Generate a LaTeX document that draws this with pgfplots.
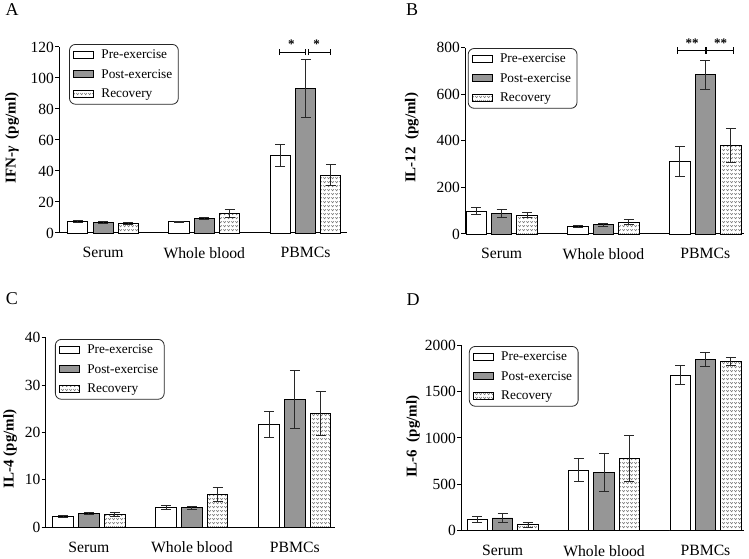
\documentclass[border=0pt]{standalone}
\usepackage{fontspec}
\setmainfont{Liberation Serif}
\usepackage{pgfplots}
\pgfplotsset{compat=1.18}
\usetikzlibrary{patterns}
\definecolor{postgray}{RGB}{150,150,150}
\definecolor{errc}{RGB}{40,40,40}
\definecolor{patc}{RGB}{110,110,110}

\pgfdeclarepatternformonly{vees}{\pgfpointorigin}{\pgfpoint{3.6pt}{3.8pt}}{\pgfpoint{3.6pt}{3.8pt}}{
  \pgfsetlinewidth{0.55pt}
  \pgfpathmoveto{\pgfpoint{0.4pt}{2.9pt}}
  \pgfpathlineto{\pgfpoint{1.8pt}{1.3pt}}
  \pgfpathlineto{\pgfpoint{3.2pt}{2.9pt}}
  \pgfusepath{stroke}
}

\pgfplotsset{
  panel/.style={
    scale only axis, ybar, clip=false,
    axis x line*=bottom, axis y line*=left,
    axis line style={line width=1pt, black},
    ymin=0,
    xtick={0,1,2}, xticklabels={Serum,Whole blood,PBMCs},
    x tick style={draw=none},
    y tick style={line width=1pt, black},
    tick align=outside, major tick length=4pt,
    yticklabel style={font=\fontsize{15.5}{17}\selectfont, inner xsep=1pt},
    xticklabel style={font=\fontsize{15.7}{17}\selectfont, yshift=-7pt},
    ylabel style={font=\bfseries\fontsize{15}{17}\selectfont, anchor=center},
    bar width=0.2,
    /pgf/number format/assume math mode=true,
    /pgf/number format/1000 sep={},
    legend cell align=left,
    legend image code/.code={\draw[##1, sharp corners] (0pt,-3.5pt) rectangle (20pt,3.5pt);},
    legend style={anchor=north west, draw=black!85, line width=0.8pt, rounded corners=6pt,
      font=\fontsize{13.3}{15}\selectfont, inner xsep=4pt, inner ysep=3pt, row sep=5.5pt,
      /tikz/every odd column/.append style={column sep=5pt}},
    error bars/y dir=both, error bars/y explicit,
    error bars/error bar style={line width=0.9pt, errc},
    error bars/error mark options={rotate=90, mark size=5pt, line width=0.9pt, errc},
  },
  pre/.style={fill=white, draw=black, line width=0.9pt, bar shift=-0.25},
  post/.style={fill=postgray, draw=black, line width=0.9pt, bar shift=0},
  rec/.style={fill=white, draw=black, line width=0.9pt, bar shift=0.25,
    postaction={pattern=vees, pattern color=patc}},
}

\begin{document}
\begin{tikzpicture}
\useasboundingbox (0pt,0pt) rectangle (749pt,559pt);

\node[font=\fontsize{18}{20}\selectfont] at (12pt,549pt) {A};
\node[font=\fontsize{18}{20}\selectfont] at (412pt,549pt) {B};
\node[font=\fontsize{18}{20}\selectfont] at (12pt,260pt) {C};
\node[font=\fontsize{18}{20}\selectfont] at (413pt,259pt) {D};

% ---------- A ----------
\begin{axis}[panel, at={(59pt,326pt)}, anchor=south west, width=288pt, height=186pt,
  xmin=-0.436, xmax=2.41, ymax=120, ytick={0,20,...,120},
  ylabel={IFN-\textit{γ}\ \ (pg/ml)},
  ylabel style={at={(axis description cs:-0.163,0.51)}},
  legend style={at={(0.035,1.016)}}]
\addplot[pre] coordinates {(0,7.5) +- (0,0.7) (1,7.3) +- (0,0.3) (2,49.9) +- (0,7)};
\addplot[post] coordinates {(0,6.7) +- (0,0.8) (1,9.5) +- (0,0.7) (2,93.3) +- (0,18.5)};
\addplot[rec] coordinates {(0,6.2) +- (0,0.5) (1,12.5) +- (0,2.5) (2,37.4) +- (0,6.5)};
\legend{Pre-exercise,Post-exercise,Recovery}
\draw[line width=0.9pt] (axis cs:1.74,116.8) -- (axis cs:2.0,116.8);
\draw[line width=0.9pt] (axis cs:1.74,114.7) -- (axis cs:1.74,118.9);
\draw[line width=0.9pt] (axis cs:2.0,114.7) -- (axis cs:2.0,118.9);
\draw[line width=0.9pt] (axis cs:2.025,116.8) -- (axis cs:2.25,116.8);
\draw[line width=0.9pt] (axis cs:2.025,114.7) -- (axis cs:2.025,118.9);
\draw[line width=0.9pt] (axis cs:2.25,114.7) -- (axis cs:2.25,118.9);
\node[font=\bfseries\fontsize{13}{14}\selectfont] at (axis cs:1.86,122) {*};
\node[font=\bfseries\fontsize{13}{14}\selectfont] at (axis cs:2.11,122) {*};
\end{axis}

% ---------- B ----------
\begin{axis}[panel, at={(465pt,325pt)}, anchor=south west, width=279pt, height=186.3pt,
  xmin=-0.36, xmax=2.38, ymax=800, ytick={0,200,...,800},
  ylabel={IL-12\ \ (pg/ml)},
  ylabel style={at={(axis description cs:-0.191,0.516)}},
  legend style={at={(0.01,0.998)}}]
\addplot[pre] coordinates {(0,97) +- (0,15) (1,34) +- (0,4) (2,311) +- (0,63)};
\addplot[post] coordinates {(0,90) +- (0,17) (1,39) +- (0,5) (2,684) +- (0,63)};
\addplot[rec] coordinates {(0,80) +- (0,11) (1,51) +- (0,12) (2,381) +- (0,72)};
\legend{Pre-exercise,Post-exercise,Recovery}
\draw[line width=0.9pt] (axis cs:1.73,787) -- (axis cs:2.0,787);
\draw[line width=0.9pt] (axis cs:1.73,773) -- (axis cs:1.73,801);
\draw[line width=0.9pt] (axis cs:2.0,773) -- (axis cs:2.0,801);
\draw[line width=0.9pt] (axis cs:2.01,787) -- (axis cs:2.28,787);
\draw[line width=0.9pt] (axis cs:2.01,773) -- (axis cs:2.01,801);
\draw[line width=0.9pt] (axis cs:2.28,773) -- (axis cs:2.28,801);
\node[font=\bfseries\fontsize{13}{14}\selectfont] at (axis cs:1.87,818) {**};
\node[font=\bfseries\fontsize{13}{14}\selectfont] at (axis cs:2.15,818) {**};
\end{axis}

% ---------- C ----------
\begin{axis}[panel, at={(45.7pt,31.7pt)}, anchor=south west, width=289.3pt, height=189.6pt,
  xmin=-0.42, xmax=2.39, ymax=40, ytick={0,10,...,40},
  ylabel={IL-4 (pg/ml)},
  ylabel style={at={(axis description cs:-0.123,0.413)}},
  legend style={at={(0.032,0.993)}}]
\addplot[pre] coordinates {(0,2.2) +- (0,0.2) (1,4.15) +- (0,0.45) (2,21.7) +- (0,2.8)};
\addplot[post] coordinates {(0,2.95) +- (0,0.25) (1,4.15) +- (0,0.3) (2,27.0) +- (0,6.1)};
\addplot[rec] coordinates {(0,2.7) +- (0,0.4) (1,6.9) +- (0,1.5) (2,24.0) +- (0,4.6)};
\legend{Pre-exercise,Post-exercise,Recovery}
\end{axis}

% ---------- D ----------
\begin{axis}[panel, at={(461pt,28.3pt)}, anchor=south west, width=283pt, height=185.4pt,
  xmin=-0.41, xmax=2.38, ymax=2000, ytick={0,500,...,2000},
  ylabel={IL-6\ \ (pg/ml)},
  ylabel style={at={(axis description cs:-0.169,0.507)}},
  legend style={at={(0.028,0.996)}}]
\addplot[pre] coordinates {(0,122) +- (0,30) (1,655) +- (0,120) (2,1680) +- (0,105)};
\addplot[post] coordinates {(0,137) +- (0,52) (1,626) +- (0,205) (2,1845) +- (0,75)};
\addplot[rec] coordinates {(0,65) +- (0,25) (1,781) +- (0,250) (2,1827) +- (0,47)};
\legend{Pre-exercise,Post-exercise,Recovery}
\end{axis}
\end{tikzpicture}
\end{document}
